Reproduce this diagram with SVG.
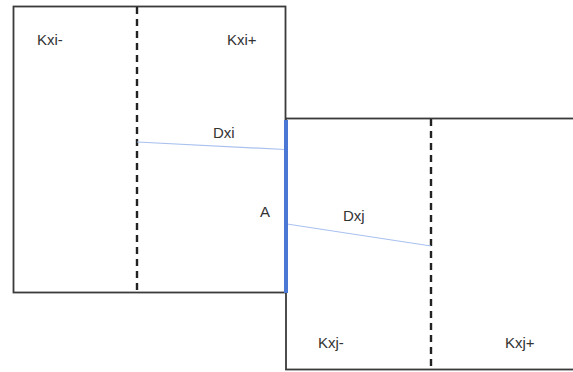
<svg xmlns="http://www.w3.org/2000/svg" width="573" height="372" viewBox="0 0 573 372">
<style>
.box{fill:#ffffff;stroke:#3a3a3a;stroke-width:1.8}
.dash{stroke:#222222;stroke-width:2.4;stroke-dasharray:7 5;fill:none}
.thin{stroke:#a9c1ef;stroke-width:1.2;fill:none}
.edge{stroke:#4a78d4;stroke-width:4;fill:none}
text{font-family:"Liberation Sans",Arial,sans-serif;font-size:15px;fill:#333333}
</style>
<rect width="573" height="372" fill="#ffffff"/>
<g id="region-i">
<rect class="box" x="13.5" y="6.5" width="272" height="286"/>
<line class="dash" x1="137" y1="7" x2="137" y2="292"/>
<text x="37" y="45">Kxi-</text>
<text x="227" y="45">Kxi+</text>
</g>
<g id="region-j">
<rect class="box" x="286" y="118.5" width="290" height="251"/>
<line class="dash" x1="431" y1="119" x2="431" y2="371"/>
<text x="318" y="348">Kxj-</text>
<text x="505" y="348">Kxj+</text>
</g>
<g id="connectors">
<line class="thin" x1="137" y1="142" x2="285" y2="149.5"/>
<line class="thin" x1="287" y1="224" x2="431" y2="246"/>
<line class="edge" x1="286" y1="120" x2="286" y2="293"/>
</g>
<g id="labels">
<text x="213" y="138">Dxi</text>
<text x="260" y="217">A</text>
<text x="343" y="221">Dxj</text>
</g>
</svg>
